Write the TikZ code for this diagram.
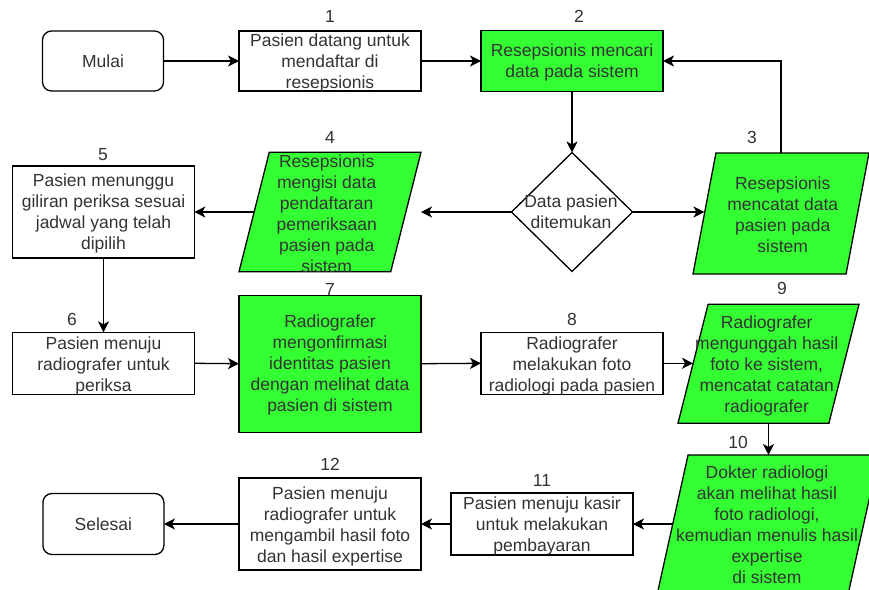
\documentclass[tikz,border=0pt]{standalone}
\usepackage{fontspec}
\setmainfont{Liberation Sans}
\usetikzlibrary{shapes.geometric,arrows.meta}
\definecolor{hijau}{HTML}{33FF33}
\definecolor{teks}{HTML}{333333}
\begin{document}
\begin{tikzpicture}[x=1pt,y=-1pt,
  every node/.style={inner sep=0pt, outer sep=0pt},
  huruf/.style={font=\fontsize{17.5}{21}\selectfont, text=teks, align=center},
  kotak/.style={rectangle, draw=black, line width=1.3pt, fill=white},
  kotakhijau/.style={kotak, fill=hijau},
  terminal/.style={kotak, rounded corners=9pt, minimum width=121pt, minimum height=60pt},
  jajar/.style={trapezium, trapezium stretches=true, inner sep=2pt, draw=black, line width=1.3pt, fill=hijau},
  belah/.style={diamond, draw=black, line width=1.3pt, fill=white, minimum width=121pt, minimum height=119pt},
  panah/.style={draw=black, line width=1.3pt, -{Stealth[length=11pt,width=11pt,inset=3pt]}},
]
\clip (0,0) rectangle (869,589);
\fill[white] (0,0) rectangle (869,589);

% --- shapes ---
\node[terminal] (mulai) at (103,61) {};
\node[kotak, minimum width=182pt, minimum height=60pt] (b1) at (330,61) {};
\node[kotakhijau, minimum width=182pt, minimum height=61pt] (b2) at (572,61) {};
\node[belah] (dia) at (572,212) {};
\node[jajar, minimum width=176pt, minimum height=121pt, trapezium left angle=80, trapezium right angle=100] (p3) at (781,213.5) {};
\node[jajar, minimum width=182pt, minimum height=119.5pt, trapezium left angle=76, trapezium right angle=104] (p4) at (330,212) {};
\node[kotak, minimum width=181.6pt, minimum height=92pt] (b5) at (103.5,212) {};
\node[kotak, minimum width=181.6pt, minimum height=62pt] (b6) at (103.5,363.3) {};
\node[kotakhijau, minimum width=182pt, minimum height=137pt] (b7) at (330,363.7) {};
\node[kotak, minimum width=182pt, minimum height=62pt] (b8) at (572,363.3) {};
\node[jajar, minimum width=181pt, minimum height=119pt, trapezium left angle=76, trapezium right angle=104] (p9) at (768.5,363.7) {};
\node[jajar, minimum width=222pt, minimum height=140pt, trapezium left angle=79, trapezium right angle=101] (p10) at (768,525) {};
\node[kotak, minimum width=182pt, minimum height=62pt] (b11) at (542,524) {};
\node[kotak, minimum width=182pt, minimum height=92pt] (b12) at (330,524) {};
\node[terminal, minimum height=61pt] (selesai) at (103.4,524) {};

% --- texts ---
\node[huruf] (tmulai) at (103,61) {Mulai};
\node[huruf] (t1) at (330,62.5) {Pasien datang untuk\\mendaftar di\\resepsionis};
\node[huruf] (t2) at (572,62) {Resepsionis mencari\\data pada sistem};
\node[huruf] (tdia) at (571,212) {Data pasien\\ditemukan};
\node[huruf] (t3) at (782.7,215) {Resepsionis\\mencatat data\\pasien pada\\sistem};
\node[huruf] (t4) at (326.7,213.3) {Resepsionis\\mengisi data\\pendaftaran\\pemeriksaan\\pasien pada\\sistem};
\node[huruf] (t5) at (103.5,213.8) {Pasien menunggu\\giliran periksa sesuai\\jadwal yang telah\\dipilih};
\node[huruf] (t6) at (103.5,366) {Pasien menuju\\radiografer untuk\\periksa};
\node[huruf] (t7) at (330,365) {Radiografer\\mengonfirmasi\\identitas pasien\\dengan melihat data\\pasien di sistem};
\node[huruf] (t8) at (572,366) {Radiografer\\melakukan foto\\radiologi pada pasien};
\node[huruf] (t9) at (766.7,365.8) {Radiografer\\mengunggah hasil\\foto ke sistem,\\mencatat catatan\\radiografer};
\node[huruf] (t10) at (767,524.5) {Dokter radiologi\\akan melihat hasil\\foto radiologi,\\kemudian menulis hasil\\expertise\\di sistem};
\node[huruf] (t11) at (542,526) {Pasien menuju kasir\\untuk melakukan\\pembayaran};
\node[huruf] (t12) at (330,526.7) {Pasien menuju\\radiografer untuk\\mengambil hasil foto\\dan hasil expertise};
\node[huruf] (tselesai) at (103.4,524) {Selesai};

% --- step numbers ---
\node[huruf] (n1) at (330,16.5) {1};
\node[huruf] (n2) at (579,16.5) {2};
\node[huruf] (n3) at (752,137.5) {3};
\node[huruf] (n4) at (330,137) {4};
\node[huruf] (n5) at (103,155) {5};
\node[huruf] (n6) at (72,319) {6};
\node[huruf] (n7) at (330,289) {7};
\node[huruf] (n8) at (572,319) {8};
\node[huruf] (n9) at (782,288) {9};
\node[huruf] (n10) at (738,442) {10};
\node[huruf] (n11) at (542,480) {11};
\node[huruf] (n12) at (330,464) {12};

% --- connectors ---
\draw[panah] (mulai.east) -- (b1.west);
\draw[panah] (b1.east) -- (b2.west);
\draw[panah] (b2.south) -- (dia.north);
\draw[panah] (dia.east) -- (dia.east -| p3.left side);
\draw[panah] (dia.west) -- (dia.west -| p4.top right corner);
\draw[panah] (p3.center |- p3.top side) |- (b2.east);
\draw[panah] (p4.left side |- b5.east) -- (b5.east);
\draw[panah] (b5.south) -- (b6.north);
\draw[panah] (b6.east) -- (b7.west);
\draw[panah] (b7.east) -- (b8.west);
\draw[panah] (b8.east) -- (b8.east -| p9.left side);
\draw[panah] (p9.center |- p9.bottom side) -- (p9.center |- p10.top side);
\draw[panah] (b11.east -| p10.left side) -- (b11.east);
\draw[panah] (b11.west) -- (b12.east);
\draw[panah] (b12.west) -- (selesai.east);
\end{tikzpicture}
\end{document}
